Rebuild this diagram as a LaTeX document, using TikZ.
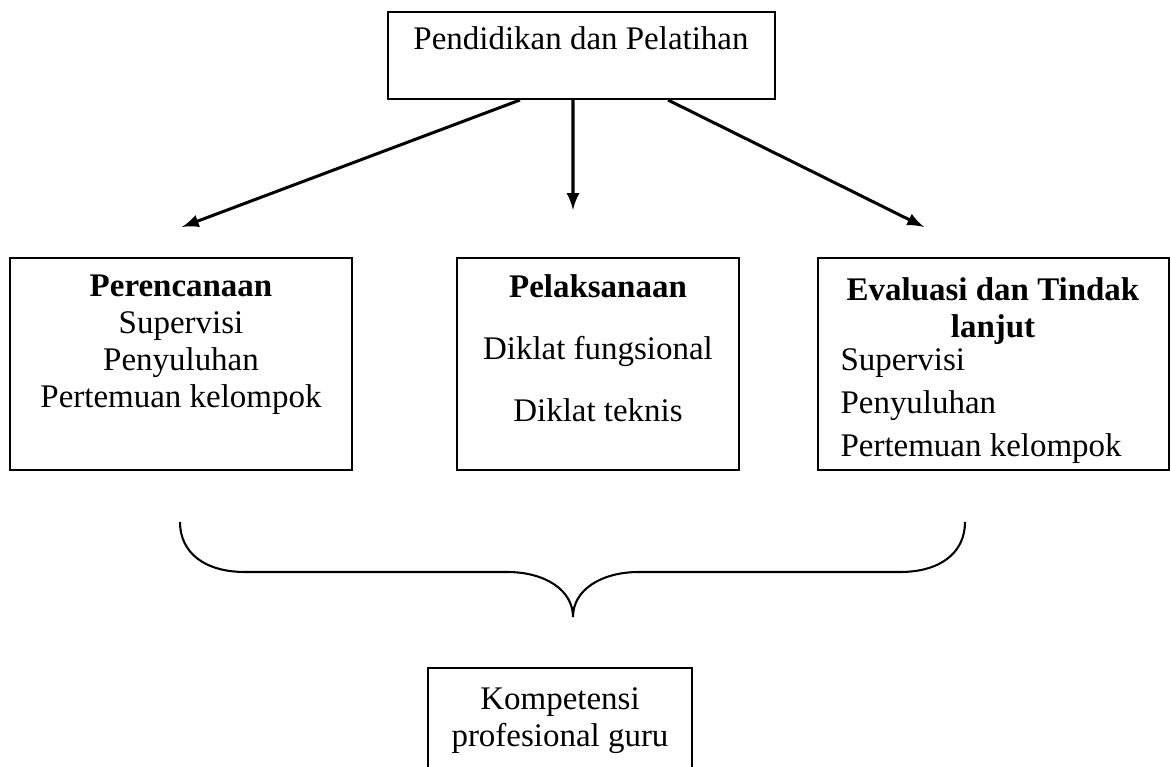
\documentclass[tikz,border=0pt]{standalone}
\usepackage{fontspec}
\setmainfont{Liberation Serif}
\usetikzlibrary{fit,positioning}

\begin{document}
\begin{tikzpicture}[x=0.364pt,y=-0.364pt]
      \tikzstyle{box}=[rectangle, draw=black!100, line width=0.75pt, inner sep=0pt]
      \tikzstyle{lbl}=[anchor=base, inner sep=0pt, align=center, font=\fontsize{12}{13.5}\selectfont]
      \tikzstyle{connect}=[-latex, line width=1.1pt]
      \tikzstyle{curly}=[line width=0.75pt]

      \useasboundingbox (0,0) rectangle (1171,767);

      % boxes
      \node[box, fit={(388,12) (775,99)}] (diklat) {};
      \node[box, fit={(10,258) (352,470)}] (plan) {};
      \node[box, fit={(457,258) (739,470)}] (exec) {};
      \node[box, fit={(818,258) (1169,470)}] (eval) {};
      \node[box, fit={(428,668) (692,800)}] (guru) {};

      % texts (base = last line)
      \node[lbl] (diklatlbl) at (581,50) {Pendidikan dan Pelatihan};
      \node[lbl] (planlbl) at (181,408) {\textbf{Perencanaan}\\Supervisi\\Penyuluhan\\Pertemuan kelompok};
      \node[lbl, font=\fontsize{12}{22.6}\selectfont] (execlbl) at (598,422) {\textbf{Pelaksanaan}\\Diklat fungsional\\Diklat teknis};
      \node[lbl, font=\fontsize{12}{13.8}\selectfont\bfseries] (evallbl) at (993,338) {Evaluasi dan Tindak\\lanjut};
      \node[lbl, anchor=base west, align=left, font=\fontsize{12}{15.8}\selectfont] (evallist) at (840,457) {Supervisi\\Penyuluhan\\Pertemuan kelompok};
      \node[lbl, font=\fontsize{12}{13.8}\selectfont] (gurulbl) at (560,747) {Kompetensi\\profesional guru};

      % arrows
      \coordinate (planin) at (182,227);
      \coordinate (execin) at (573,210);
      \coordinate (evalin) at (924,227);
      \path ([xshift=-22.4pt]diklat.south) edge [connect] (planin);
      \path ([xshift=-3.1pt]diklat.south) edge [connect] (execin);
      \path ([xshift=31.5pt]diklat.south) edge [connect] (evalin);

      % brace
      \draw[curly] (180,522) .. controls (180,553) and (205,572) .. (245,572) -- (507,572)
            .. controls (545,572) and (573,590) .. (573,617)
            .. controls (573,590) and (601,572) .. (639,572) -- (900,572)
            .. controls (940,572) and (965,553) .. (965,522);
    \end{tikzpicture}
\end{document}
